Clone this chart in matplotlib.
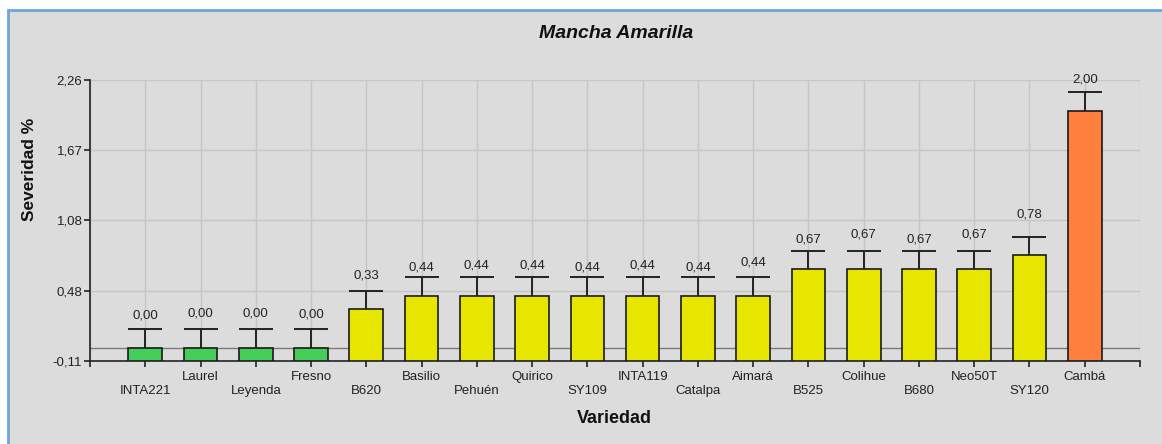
import matplotlib
matplotlib.use("Agg")
import matplotlib.pyplot as plt
from matplotlib.patches import Rectangle

plt.rcParams['font.family'] = ['Liberation Sans', 'DejaVu Sans']

categories = ["INTA221", "Laurel", "Leyenda", "Fresno", "B620", "Basilio", "Pehuén",
              "Quirico", "SY109", "INTA119", "Catalpa", "Aimará", "B525", "Colihue",
              "B680", "Neo50T", "SY120", "Cambá"]
values = [0.00, 0.00, 0.00, 0.00, 0.33, 0.44, 0.44, 0.44, 0.44, 0.44, 0.44, 0.44,
          0.67, 0.67, 0.67, 0.67, 0.78, 2.00]
errors = [0.16, 0.16, 0.16, 0.16, 0.15, 0.16, 0.16, 0.16, 0.16, 0.16, 0.16, 0.16,
          0.15, 0.15, 0.15, 0.15, 0.16, 0.16]
groups = ["g"] * 4 + ["y"] * 13 + ["o"]
group_colors = {"g": "#45CE5A", "y": "#E6E600", "o": "#FF7F3F"}
yticks = [-0.11, 0.48, 1.08, 1.67, 2.26]
ytick_labels = ["-0,11", "0,48", "1,08", "1,67", "2,26"]
ymin, ymax = -0.11, 2.26
# label gap above each error cap (pixels), as placed in the original
label_gap_px = [13, 15, 15, 14, 16, 9.5, 11, 11, 9.5, 11, 9.5, 14, 11, 16, 11, 16, 22.5, 12.5]

W, H = 1162, 444
fig = plt.figure(figsize=(W / 100, H / 100), dpi=100, facecolor="white")
bg = "#DCDCDC"
fig.patches.append(Rectangle((8 / W, -0.1), 1.2, 1 - 10 / H + 0.1, transform=fig.transFigure,
                             facecolor=bg, edgecolor="#6CA6DC", linewidth=2, zorder=-10))

ax = fig.add_axes([90 / W, 1 - 361 / H, (1140 - 90) / W, (361 - 80) / H])
ax.set_facecolor(bg)
ax.patch.set_alpha(0)

x = list(range(len(categories)))
colors = [group_colors[g] for g in groups]
heights = [v - ymin for v in values]
ax.bar(x, heights, bottom=ymin, width=0.61, color=colors, edgecolor="#1a1a1a",
       linewidth=1.2, zorder=3)
eb = ax.errorbar(x, values, yerr=[[0] * len(values), errors], fmt="none", ecolor="#222222",
                 elinewidth=1.4, capsize=12.5, capthick=1.4, zorder=4)
# hide the lower caps (they sit on the bar tops)
for cl in eb[1]:
    yd = list(cl.get_ydata())
    if all(abs(a - b) < 1e-9 for a, b in zip(yd, values)):
        cl.set_visible(False)
for xi, v, e, g in zip(x, values, errors, label_gap_px):
    ax.annotate(f"{v:.2f}".replace(".", ","), (xi, v + e), xytext=(0, g * 0.72),
                textcoords="offset points", ha="center", va="center",
                fontsize=9.5, color="#222222")

ax.axhline(0, color="#7a7a7a", linewidth=1, zorder=2)

ax.set_xlim(-1, len(categories))
ax.set_ylim(ymin, ymax)
ax.set_yticks(yticks)
ax.set_yticklabels(ytick_labels, fontsize=9.5, color="#222222")
ax.set_xticks(list(range(-1, len(categories) + 1)))
ax.set_xticklabels([""] + categories + [""], fontsize=9.5, color="#222222")
for i, t in enumerate(ax.xaxis.get_major_ticks()):
    idx = i - 1
    if 0 <= idx < len(categories):
        t.set_pad(13.5 if idx % 2 == 0 else 3.5)
ax.tick_params(axis="both", direction="out", length=4, width=1.2, color="#222222")
ax.tick_params(axis="y", pad=1.5)

ax.grid(True, color="#C6C6C6", linewidth=1, zorder=0)
ax.set_axisbelow(True)
for s in ["top", "right"]:
    ax.spines[s].set_visible(False)
for s in ["left", "bottom"]:
    ax.spines[s].set_color("#222222")
    ax.spines[s].set_linewidth(1.2)

fig.text(616 / W, 1 - 33 / H, "Mancha Amarilla", ha="center", va="center",
         fontsize=14, fontweight="bold", fontstyle="italic", color="#111111")
fig.text(614 / W, 1 - 418 / H, "Variedad", ha="center", va="center",
         fontsize=13, fontweight="bold", color="#111111")
fig.text(30 / W, 1 - 169 / H, "Severidad %", ha="center", va="center", rotation=90,
         fontsize=12.5, fontweight="bold", color="#111111")

fig.savefig("out.png", dpi=100, facecolor="white")
